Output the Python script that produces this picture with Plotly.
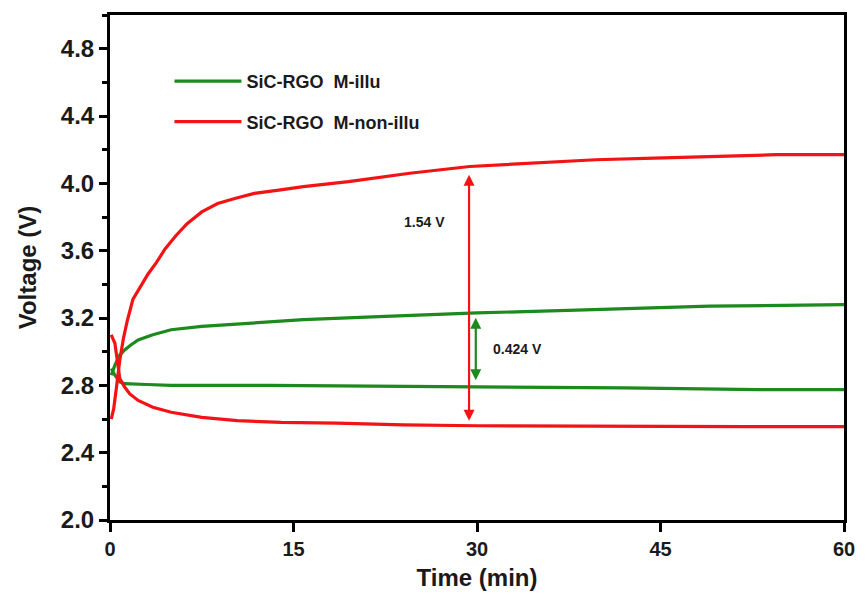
import plotly.graph_objects as go

# ---- data ----
illu_charge_t = [0.1, 0.4, 0.8, 1.2, 1.7, 2.3, 3.5, 5, 7.5, 10.4, 13, 15.8, 22.5, 30, 39.5, 49, 60]
illu_charge_v = [2.86, 2.92, 2.98, 3.01, 3.04, 3.07, 3.10, 3.13, 3.15, 3.165, 3.18, 3.19, 3.21, 3.23, 3.25, 3.27, 3.28]
illu_dis_t = [0.1, 0.4, 0.8, 1.2, 3, 5, 13, 23, 30, 42, 53, 60]
illu_dis_v = [2.90, 2.86, 2.82, 2.81, 2.805, 2.80, 2.80, 2.795, 2.79, 2.785, 2.775, 2.775]

non_charge_t = [0.1, 0.3, 0.55, 0.8, 1.1, 1.4, 1.87, 2.5, 3.1, 3.8, 4.5, 5.4, 6.3, 7.5, 8.8, 10.2, 11.8, 13.8, 15.8, 19.5, 24.5, 29.4, 34.5, 39.7, 44.5, 49.2, 54.5, 60]
non_charge_v = [2.60, 2.66, 2.80, 2.95, 3.08, 3.18, 3.31, 3.39, 3.46, 3.53, 3.61, 3.69, 3.76, 3.83, 3.88, 3.91, 3.94, 3.96, 3.98, 4.01, 4.06, 4.10, 4.12, 4.14, 4.15, 4.16, 4.17, 4.17]
non_dis_t = [0.1, 0.4, 0.65, 0.8, 1.2, 1.6, 2.3, 3.5, 5, 7.5, 10.4, 14, 18.5, 24, 30, 38, 45, 52, 60]
non_dis_v = [3.10, 3.05, 2.92, 2.84, 2.79, 2.75, 2.71, 2.67, 2.64, 2.61, 2.59, 2.58, 2.575, 2.565, 2.56, 2.557, 2.555, 2.555, 2.555]

series_names = ["SiC-RGO\u00a0\u00a0M-illu", "SiC-RGO\u00a0\u00a0M-non-illu"]
x_ticks = [0, 15, 30, 45, 60]
y_ticks = [2.0, 2.4, 2.8, 3.2, 3.6, 4.0, 4.4, 4.8]

red_gap = [29.35, 2.59, 4.06]     # t, low V, high V
green_gap = [29.9, 2.83, 3.21]
red_label = ["1.54 V", 25.7, 3.77]
green_label = ["0.424 V", 33.3, 3.015]

GREEN = "#1c8a1c"
RED = "#f21414"
TXT = "#1a1a1a"
FONT = "Liberation Sans, Arial, sans-serif"

fig = go.Figure()
fig.add_trace(go.Scatter(
    x=illu_charge_t + [None] + illu_dis_t,
    y=illu_charge_v + [None] + illu_dis_v,
    mode="lines", name=series_names[0], legendgroup="a",
    line=dict(color=GREEN, width=3.2)))
fig.add_trace(go.Scatter(
    x=non_charge_t + [None] + non_dis_t,
    y=non_charge_v + [None] + non_dis_v,
    mode="lines", name=series_names[1], legendgroup="b",
    line=dict(color=RED, width=3.2)))

# double-headed arrows
for (t, lo, hi), col in ((red_gap, RED), (green_gap, GREEN)):
    fig.add_annotation(x=t, y=lo, ax=t, ay=hi, xref="x", yref="y",
                       axref="x", ayref="y", text="", showarrow=True,
                       arrowhead=2, startarrowhead=2, arrowside="end+start",
                       arrowsize=1, startarrowsize=1, arrowwidth=2.2, arrowcolor=col)
for txt, t, v in (red_label, green_label):
    fig.add_annotation(x=t, y=v, xref="x", yref="y", text="<b>%s</b>" % txt,
                       showarrow=False, font=dict(family=FONT, size=14, color=TXT))

axis_common = dict(showline=True, linecolor="black", linewidth=3, mirror=True,
                   showgrid=False, zeroline=False, ticks="outside",
                   tickcolor="black", tickwidth=2.5)

fig.update_xaxes(range=[0, 60], tickvals=x_ticks, ticklen=9,
                 tickfont=dict(family=FONT, size=20, color=TXT, weight="bold"),
                 title=dict(text="<b>Time (min)</b>", standoff=11,
                            font=dict(family=FONT, size=24, color=TXT)),
                 **axis_common)
fig.update_yaxes(range=[2.0, 5.0], tickvals=y_ticks, ticklen=8,
                 tickformat=".1f",
                 minor=dict(dtick=0.2, tick0=2.0, ticks="outside", ticklen=5,
                            tickcolor="black", tickwidth=2.5, showgrid=False),
                 tickfont=dict(family=FONT, size=24, color=TXT, weight="bold"),
                 title=dict(text="<b>Voltage (V)</b>", standoff=18,
                            font=dict(family=FONT, size=24, color=TXT)),
                 **axis_common)

fig.update_layout(
    width=867, height=600,
    margin=dict(l=110, r=15, t=12, b=76),
    plot_bgcolor="white", paper_bgcolor="white",
    font=dict(family=FONT, color=TXT),
    legend=dict(x=0.081, y=0.905, xanchor="left", yanchor="top",
                bgcolor="rgba(0,0,0,0)", itemwidth=67, tracegroupgap=14,
                font=dict(family=FONT, size=18, color=TXT, weight="bold")),
)

fig.write_html("out.html")
